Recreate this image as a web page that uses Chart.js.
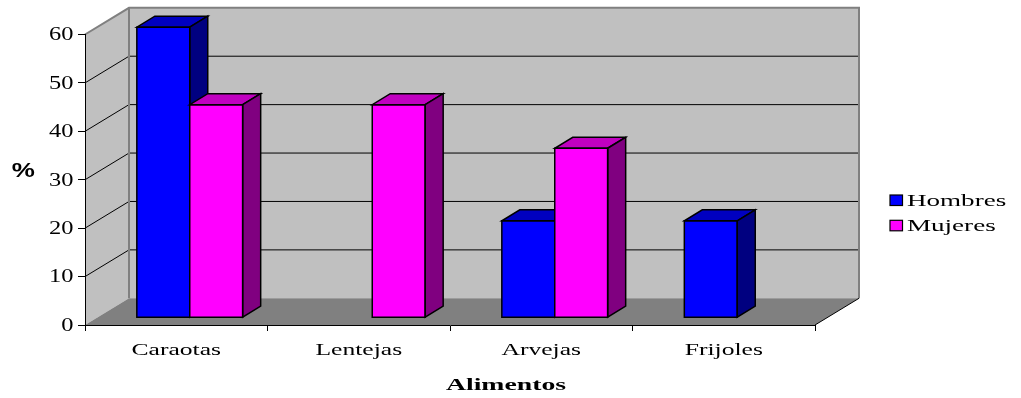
<!DOCTYPE html>
<html>
<head>
<meta charset="utf-8">
<script src="https://cdn.jsdelivr.net/npm/chart.js@4/dist/chart.umd.min.js"></script>
<style>
  html, body { margin: 0; padding: 0; background: #fff; }
  canvas { display: block; }
  .fontwarm { position: absolute; left: -9999px; top: 0; visibility: hidden; }
</style>
</head>
<body>
<canvas id="chart" width="1021" height="398"></canvas>
<span class="fontwarm" style="font-family:'Liberation Serif'">Caraotas 0123</span>
<span class="fontwarm" style="font-family:'Liberation Serif';font-weight:bold">Alimentos</span>
<span class="fontwarm" style="font-family:'Liberation Sans';font-weight:bold">%</span>
<script>
// Food preference by sex (%)
const categories = ['Caraotas', 'Lentejas', 'Arvejas', 'Frijoles'];
const hombres = [60, 0, 20, 20];
const mujeres = [44, 44, 35, 0];
const seriesNames = ['Hombres', 'Mujeres'];
const yMin = 0;
const yMax = 60;
const yStep = 10;
const xTitle = 'Alimentos';
const yTitle = '%';

// Oblique projection of the box: walls behind the front plane, bars inside it
const WALL_DEPTH = { x: 44, y: -26.7 };
const BAR_SHIFT = { x: 13.5, y: -7.3 };
const BAR_DEPTH = { x: 18, y: -11 };

const SERIF = '"Liberation Serif", "Times New Roman", serif';
const SANS = '"Liberation Sans", Arial, sans-serif';

function poly(ctx, pts, fill, stroke, lw) {
  ctx.beginPath();
  ctx.moveTo(pts[0][0], pts[0][1]);
  for (let i = 1; i < pts.length; i++) ctx.lineTo(pts[i][0], pts[i][1]);
  ctx.closePath();
  if (fill) { ctx.fillStyle = fill; ctx.fill(); }
  if (stroke) { ctx.strokeStyle = stroke; ctx.lineWidth = lw || 1; ctx.stroke(); }
}

function line(ctx, pts, color, lw) {
  ctx.beginPath();
  ctx.moveTo(pts[0][0], pts[0][1]);
  for (let i = 1; i < pts.length; i++) ctx.lineTo(pts[i][0], pts[i][1]);
  ctx.strokeStyle = color;
  ctx.lineWidth = lw;
  ctx.stroke();
}

// Text drawn with a horizontal stretch (wide glyphs)
function wideText(ctx, text, x, y, font, sx, align) {
  ctx.save();
  ctx.font = font;
  ctx.textAlign = align;
  ctx.textBaseline = 'alphabetic';
  ctx.fillStyle = '#000';
  ctx.translate(x, y);
  ctx.scale(sx, 1);
  ctx.fillText(text, 0, 0);
  ctx.restore();
}

// Back wall, side wall, floor and gridlines
const box3d = {
  id: 'box3d',
  beforeDraw(chart) {
    const ctx = chart.ctx;
    const a = chart.chartArea;
    const ys = chart.scales.y;
    const dx = WALL_DEPTH.x, dy = WALL_DEPTH.y;
    const L = a.left, R = a.right, T = a.top, B = a.bottom;
    ctx.save();
    ctx.lineJoin = 'miter';
    poly(ctx, [[L + dx, T + dy], [R + dx, T + dy], [R + dx, B + dy], [L + dx, B + dy]], '#C0C0C0');
    poly(ctx, [[L, T], [L + dx, T + dy], [L + dx, B + dy], [L, B]], '#C0C0C0');
    poly(ctx, [[L, B], [R, B], [R + dx, B + dy], [L + dx, B + dy]], '#808080');
    ys.ticks.forEach(t => {
      if (t.value <= yMin || t.value >= yMax) return;
      const py = ys.getPixelForValue(t.value);
      line(ctx, [[L, py], [L + dx, py + dy], [R + dx, py + dy]], '#000', 1);
    });
    line(ctx, [[L, T], [L + dx, T + dy], [R + dx, T + dy], [R + dx, B + dy]], '#808080', 2);
    line(ctx, [[L + dx, T + dy], [L + dx, B + dy]], '#808080', 2);
    line(ctx, [[R, B], [R + dx, B + dy]], '#000', 1);
    ctx.restore();
  },
  afterDraw(chart) {
    const ctx = chart.ctx;
    const ys = chart.scales.y;
    const xs = chart.scales.x;
    ys.ticks.forEach(t => {
      const py = ys.getPixelForValue(t.value);
      wideText(ctx, String(t.value), 73.5, py + 5.8, '18.5px ' + SERIF, 1.32, 'right');
    });
    chart.data.labels.forEach((lab, i) => {
      wideText(ctx, lab, xs.getPixelForValue(i), 354.5, '16px ' + SERIF, 1.6, 'center');
    });
    wideText(ctx, xTitle, 506, 389.5, 'bold 16.5px ' + SERIF, 1.68, 'center');
    wideText(ctx, yTitle, 23.3, 176.5, 'bold 20px ' + SANS, 1.3, 'center');
    chart.data.datasets.forEach((ds, i) => {
      const by = 195 + i * 25.3;
      ctx.save();
      ctx.fillStyle = ds.backgroundColor;
      ctx.fillRect(890, by, 12.5, 10.5);
      ctx.strokeStyle = '#000';
      ctx.lineWidth = 1.2;
      ctx.strokeRect(890, by, 12.5, 10.5);
      ctx.restore();
      wideText(ctx, ds.label, 907, by + 11, '16.5px ' + SERIF, 1.64, 'left');
    });
  }
};

// Bars are drawn series by series from left to right, each one extruded
// with its top and side faces so the right-hand bar overlaps the left one.
const bar3d = {
  id: 'bar3d',
  beforeDatasetDraw() {
    return false;
  },
  afterDatasetsDraw(chart) {
    const ctx = chart.ctx;
    const dx = BAR_DEPTH.x, dy = BAR_DEPTH.y;
    ctx.save();
    ctx.translate(BAR_SHIFT.x, BAR_SHIFT.y);
    ctx.lineJoin = 'miter';
    chart.getSortedVisibleDatasetMetas().forEach(meta => {
      const ds = chart.data.datasets[meta.index];
      meta.controller.draw();
      meta.data.forEach((el, i) => {
        if (!ds.data[i]) return;
        const p = el.getProps(['x', 'y', 'base', 'width'], true);
        const l = p.x - p.width / 2, r = p.x + p.width / 2;
        const t = Math.min(p.y, p.base), b = Math.max(p.y, p.base);
        poly(ctx, [[l, t], [r, t], [r + dx, t + dy], [l + dx, t + dy]], ds.topColor, '#000', 1.5);
        poly(ctx, [[r, t], [r + dx, t + dy], [r + dx, b + dy], [r, b]], ds.sideColor, '#000', 1.5);
        poly(ctx, [[l, t], [r, t], [r, b], [l, b]], null, '#000', 1.5);
      });
    });
    ctx.restore();
  }
};

function build() {
  new Chart(document.getElementById('chart'), {
    type: 'bar',
    data: {
      labels: categories,
      datasets: [
        { label: seriesNames[0], data: hombres, backgroundColor: '#0000FF', topColor: '#0000C0', sideColor: '#000080' },
        { label: seriesNames[1], data: mujeres, backgroundColor: '#FF00FF', topColor: '#C000C0', sideColor: '#800080' }
      ]
    },
    options: {
      responsive: false,
      animation: false,
      devicePixelRatio: 1,
      layout: { padding: { left: 0, top: 34.5, right: 206, bottom: 0 } },
      datasets: {
        bar: {
          categoryPercentage: 0.58,
          barPercentage: 1,
          borderWidth: 0,
          clip: false
        }
      },
      plugins: {
        legend: { display: false },
        title: { display: false },
        tooltip: { enabled: false }
      },
      scales: {
        x: {
          grid: { offset: true, drawOnChartArea: false, drawTicks: true, tickLength: 6, color: '#000', lineWidth: 1 },
          border: { display: true, color: '#000', width: 1 },
          ticks: { display: false },
          afterFit: s => { s.height = 73; }
        },
        y: {
          min: yMin,
          max: yMax,
          ticks: { stepSize: yStep, display: false },
          grid: { drawOnChartArea: false, drawTicks: true, tickLength: 7, color: '#000', lineWidth: 1 },
          border: { display: true, color: '#000', width: 1 },
          afterFit: s => { s.width = 85; }
        }
      }
    },
    plugins: [box3d, bar3d]
  });
}

const fontSpecs = ['16px "Liberation Serif"', 'bold 16px "Liberation Serif"', 'bold 20px "Liberation Sans"'];
Promise.all(fontSpecs.map(f => document.fonts.load(f)))
  .then(() => document.fonts.ready)
  .then(build, build);
</script>
</body>
</html>
